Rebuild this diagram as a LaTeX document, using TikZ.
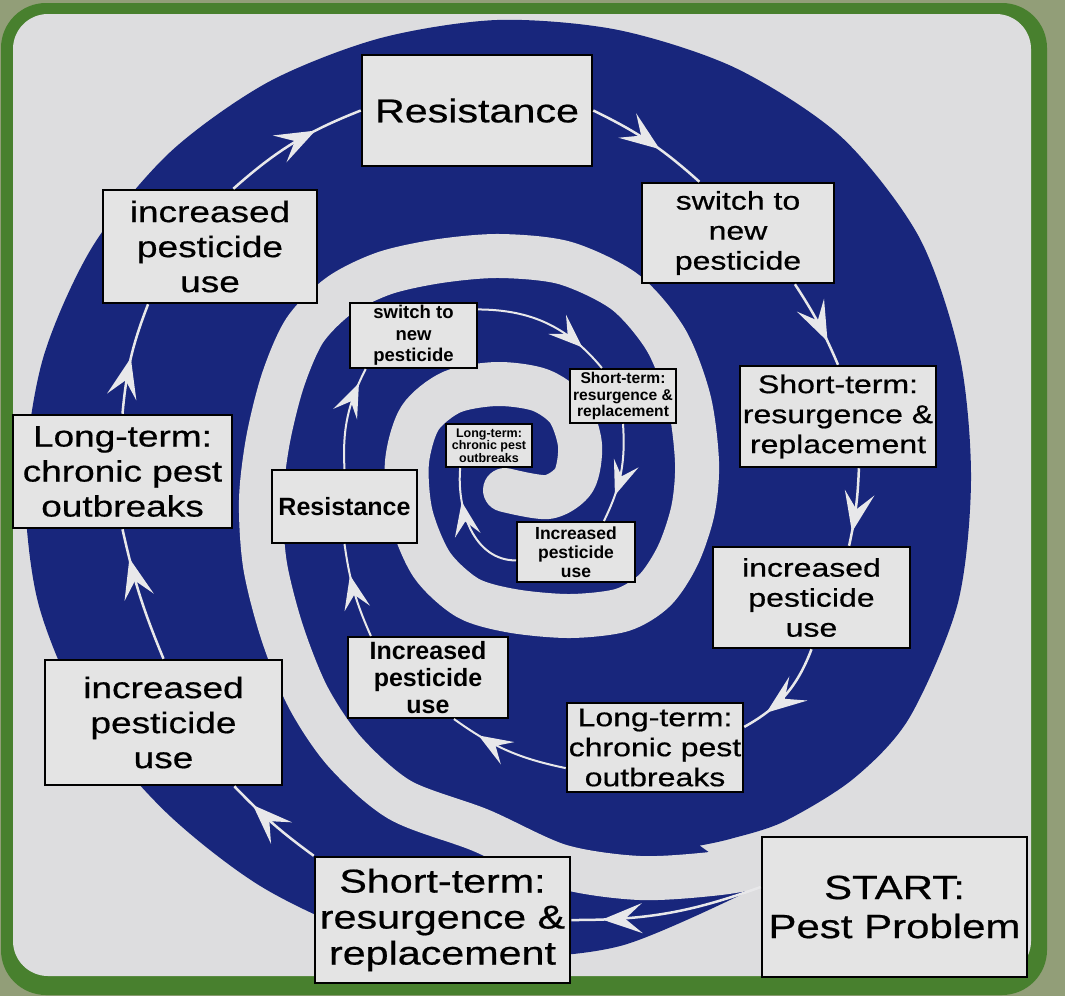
\documentclass[tikz,border=0pt]{standalone}
\usepackage{fontspec}
\setmainfont{Liberation Sans}
\newfontfamily\lbl[FakeStretch=1.25, FakeBold=0.6]{Liberation Sans}
\usetikzlibrary{arrows.meta, decorations.markings}
\definecolor{spiralblue}{RGB}{24,38,124}
\definecolor{panelgrey}{RGB}{221,221,223}
\definecolor{boxgrey}{RGB}{228,228,228}
\definecolor{arrowgrey}{RGB}{232,232,234}
\definecolor{framegreen}{RGB}{72,128,46}
\definecolor{olivebg}{RGB}{146,158,120}
\tikzset{stage/.style={rectangle, draw=black, line width=2.5pt, fill=boxgrey, align=center, inner sep=0pt}}
\tikzset{substage/.style={stage, line width=2pt}}
\tikzset{righttext/.style={font=\lbl\fontsize{25.6}{30}\selectfont}}
\tikzset{lefttext/.style={font=\lbl\fontsize{29.6}{35}\selectfont}}
\tikzset{hugetext/.style={font=\lbl\fontsize{33}{36}\selectfont}}
\tikzset{starttext/.style={font=\lbl\fontsize{33.6}{39}\selectfont}}
\tikzset{flow/.style={color=arrowgrey, line width=2.5pt, postaction={decorate}, decoration={markings, mark=at position #1 with {\arrow{Stealth[length=40pt, width=30pt, inset=17pt]}}}}, flow/.default=0.5}
\tikzset{subflow/.style={color=arrowgrey, line width=2pt, postaction={decorate}, decoration={markings, mark=at position #1 with {\arrow{Stealth[length=34pt, width=26pt, inset=14pt]}}}}, subflow/.default=0.5}

\begin{document}
\begin{tikzpicture}[x=1pt, y=-1pt]
	\useasboundingbox (0,0) rectangle (1065,996);
	\fill[olivebg] (0,0) rectangle (1065,996);
	\fill[framegreen, rounded corners=45pt] (1,3) rectangle (1047,995);
	\fill[panelgrey, rounded corners=35pt] (13,14) rectangle (1031,976);

	% the spiral band and its gap
	\fill[spiralblue, shift={(497,480)}] plot[smooth] coordinates {(57.4:483) (75:482) (90:477) (105:474) (120:470) (135:469) (150:474) (165:475) (180:472) (195:470) (210:467) (225:463) (240:459) (255:457) (270:460) (285:466) (300:476) (315:486) (330:487) (345:479) (360:474) (375:477) (390:476) (400:465) (410:446) (417:428) (421:418)} -- cycle;
	\draw[panelgrey, line width=44pt, line cap=round, line join=round] plot[smooth] coordinates {(505,490) (548,497) (574,480) (580,445) (568,410) (540,390) (497,384) (452,392) (420,418) (407,462) (411,515) (432,565) (468,598) (513,611) (570,616) (622,610) (655,590) (678,555) (693,510) (697,462) (689,400) (666,340) (625,292) (565,263) (500,256) (440,261) (385,273) (340,295) (305,330) (283,380) (268,440) (261,500) (265,565) (282,632) (308,697) (345,752) (400,800) (480,830) (560,866) (640,878) (720,873) (780,862)};

	\node [stage, starttext, minimum width=265, minimum height=140] (start) at (894.5,907) {START:\\Pest Problem};
	\node [stage, hugetext, minimum width=255, minimum height=126] (short1) at (442.5,920) {Short-term:\\resurgence \&\\replacement};
	\node [stage, lefttext, minimum width=237, minimum height=125] (incr1) at (163.5,722.5) {increased\\pesticide\\use};
	\node [stage, lefttext, minimum width=219, minimum height=113] (long1) at (122.5,471.5) {Long-term:\\chronic pest\\outbreaks};
	\node [stage, lefttext, minimum width=214, minimum height=113] (incr2) at (210,246.5) {increased\\pesticide\\use};
	\node [stage, hugetext, minimum width=230, minimum height=111] (resist1) at (477,110.5) {Resistance};
	\node [stage, righttext, minimum width=192, minimum height=100] (switch1) at (738,233) {switch to\\new\\pesticide};
	\node [stage, righttext, minimum width=196, minimum height=101] (short2) at (838,416.5) {Short-term:\\resurgence \&\\replacement};
	\node [stage, righttext, minimum width=197, minimum height=101] (incr3) at (811.5,597.5) {increased\\pesticide\\use};
	\node [stage, righttext, minimum width=176, minimum height=89] (long2) at (655,747.5) {Long-term:\\chronic pest\\outbreaks};
	\node [substage, font=\bfseries\fontsize{25}{27}\selectfont, minimum width=160, minimum height=81] (incr4) at (428,677.5) {Increased\\pesticide\\use};
	\node [substage, font=\bfseries\fontsize{25}{27}\selectfont, minimum width=145, minimum height=73] (resist2) at (344.5,506.5) {Resistance};
	\node [substage, font=\bfseries\fontsize{18.5}{21.5}\selectfont, minimum width=127, minimum height=65] (switch2) at (413.5,335.5) {switch to\\new\\pesticide};
	\node [substage, font=\bfseries\fontsize{15.6}{16.8}\selectfont, minimum width=106, minimum height=54] (short3) at (623,396) {Short-term:\\resurgence \&\\replacement};
	\node [substage, font=\bfseries\fontsize{17.5}{19}\selectfont, minimum width=118, minimum height=60] (incr5) at (576,552) {Increased\\pesticide\\use};
	\node [substage, font=\bfseries\fontsize{12.5}{11.3}\selectfont, minimum width=86, minimum height=43] (long3) at (489,445.5) {Long-term:\\chronic pest\\outbreaks};

	\path
	([yshift=20pt]start.west) edge[flow=0.84, bend left=10] (short1.east)
	(short1.north west) edge[flow=0.75, bend left=5] (incr1.-42)
	(incr1.north) edge[flow=0.78, bend left=5] (long1.south)
	(long1.north) edge[flow=0.5, bend left=8] (incr2.223)
	(incr2.68) edge[flow=0.67, bend left=10] (resist1.west)
	(resist1.east) edge[flow=0.6, bend left=8] (switch1.127)
	(switch1.-42) edge[flow=0.72, bend left=5] (short2.north)
	(short2.-68) edge[flow=0.82, bend left=5] (incr3.54)
	(incr3.south) edge[flow=0.75, bend left=20] (long2.13)
	(long2.193) edge[subflow=0.76, bend left=12] (incr4.-58)
	(incr4.144) edge[subflow=0.67, bend left=8] (resist2.south)
	(resist2.north) edge[subflow=0.85, bend left=15] (switch2.215)
	(switch2.22) edge[subflow=0.8, bend left=25] (short3.127)
	(short3.south) edge[subflow=0.72, bend left=15] (incr5.48)
	(incr5.188) edge[subflow=0.72, out=180, in=265] (long3.218);
\end{tikzpicture}
\end{document}
